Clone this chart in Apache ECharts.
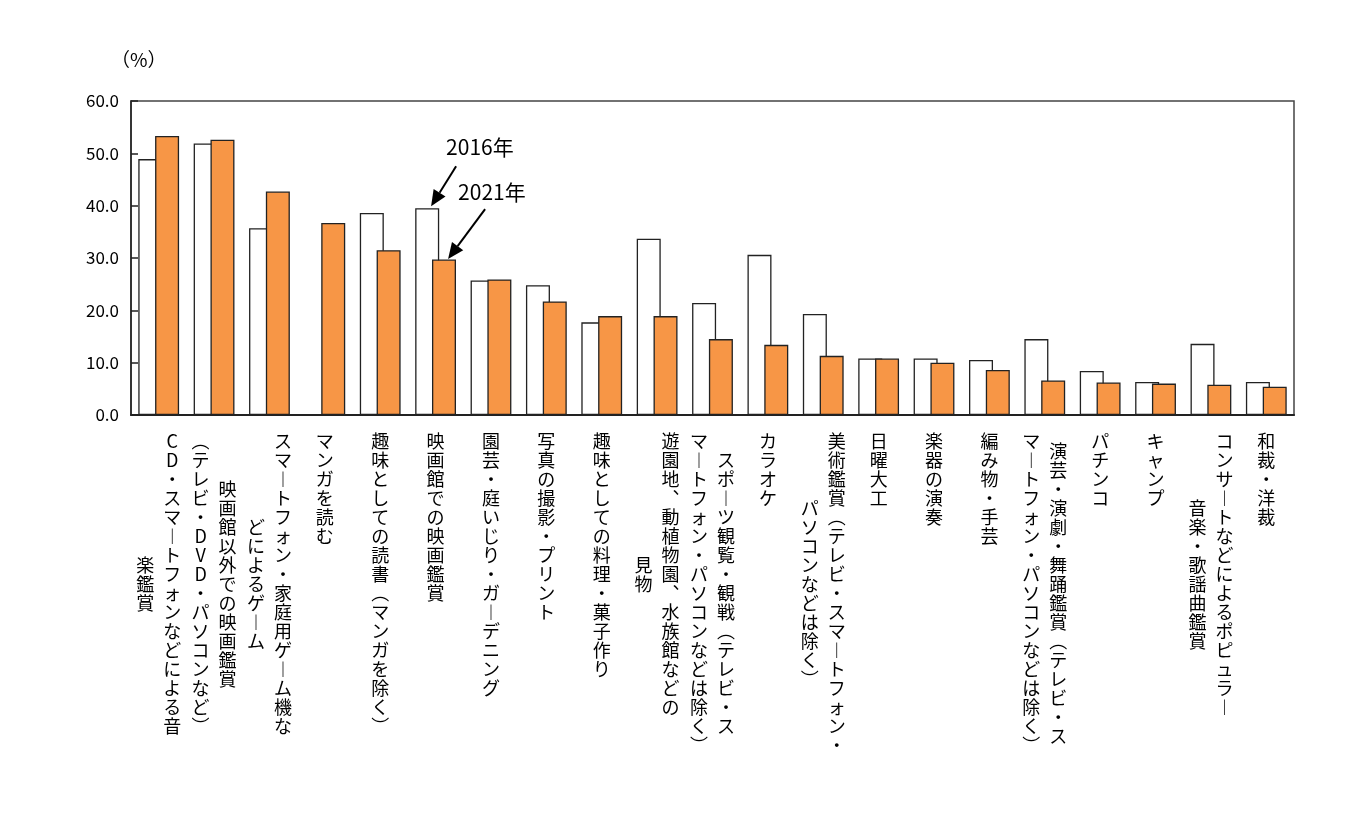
<!DOCTYPE html>
<html>
<head>
<meta charset="utf-8">
<script src="https://cdn.jsdelivr.net/npm/echarts@6/dist/echarts.min.js"></script>
<style>
  html, body { margin: 0; padding: 0; background: #fff; }
  #chart { width: 1360px; height: 814px; }
</style>
</head>
<body>
<div id="chart"></div>
<script>
// カテゴリ（列の区切りは \n、右の列から順に）
const categories = [
    'CD・スマートフォンなどによる音\n楽鑑賞',
    '映画館以外での映画鑑賞\n（テレビ・DVD・パソコンなど）',
    'スマートフォン・家庭用ゲーム機な\nどによるゲーム',
    'マンガを読む',
    '趣味としての読書（マンガを除く）',
    '映画館での映画鑑賞',
    '園芸・庭いじり・ガーデニング',
    '写真の撮影・プリント',
    '趣味としての料理・菓子作り',
    '遊園地、動植物園、水族館などの\n見物',
    'スポーツ観覧・観戦（テレビ・ス\nマートフォン・パソコンなどは除く）',
    'カラオケ',
    '美術鑑賞（テレビ・スマートフォン・\nパソコンなどは除く）',
    '日曜大工',
    '楽器の演奏',
    '編み物・手芸',
    '演芸・演劇・舞踊鑑賞（テレビ・ス\nマートフォン・パソコンなどは除く）',
    'パチンコ',
    'キャンプ',
    'コンサートなどによるポピュラー\n音楽・歌謡曲鑑賞',
    '和裁・洋裁'
];

const values2016 = [48.9, 51.9, 35.7, '-', 38.6, 39.5, 25.7, 24.8, 17.7, 33.7, 21.4,
                    30.6, 19.3, 10.8, 10.8, 10.5, 14.5, 8.4, 6.3, 13.6, 6.3];
const values2021 = [53.3, 52.6, 42.7, 36.7, 31.5, 29.7, 25.9, 21.7, 18.9, 18.9, 14.5,
                    13.4, 11.3, 10.8, 10.0, 8.6, 6.6, 6.2, 6.0, 5.8, 5.4];

const yTicks = { min: 0, max: 60, interval: 10 };
const seriesNames = ['2016年', '2021年'];

const FONT = '"Noto Sans CJK JP", "Noto Sans", sans-serif';

// 縦書き用の字形
const vertForms = { 'ー': '︱', '（': '︵', '）': '︶', '、': '︑', '(': '︵', ')': '︶' };

const chart = echarts.init(document.getElementById('chart'));

const option = {
    animation: false,
    backgroundColor: '#fff',
    title: {
        text: '（%）',
        left: 106,
        top: 45,
        textStyle: { fontFamily: FONT, fontSize: 19, fontWeight: 'normal', color: '#000' }
    },
    grid: {
        left: 131,
        right: 66,
        top: 101,
        bottom: 399,
        show: true,
        borderColor: '#444',
        borderWidth: 1.5
    },
    xAxis: {
        type: 'category',
        data: categories,
        axisLine: { lineStyle: { color: '#222', width: 2 } },
        axisTick: { inside: true, length: 5, lineStyle: { color: '#222', width: 1.5 } },
        axisLabel: { show: false }
    },
    yAxis: {
        type: 'value',
        min: yTicks.min,
        max: yTicks.max,
        interval: yTicks.interval,
        axisLine: { show: true, lineStyle: { color: '#222', width: 1.5 } },
        axisTick: { show: true, inside: true, length: 7, lineStyle: { color: '#222', width: 1.5 } },
        splitLine: { show: false },
        axisLabel: {
            color: '#000',
            fontFamily: FONT,
            fontSize: 17,
            margin: 12,
            formatter: v => v.toFixed(1)
        }
    },
    series: [
        {
            name: seriesNames[0],
            type: 'bar',
            data: values2016,
            barWidth: 24,
            barGap: '-30%',
            itemStyle: { color: '#fff', borderColor: '#222', borderWidth: 1.3 }
        },
        {
            name: seriesNames[1],
            type: 'bar',
            data: values2021,
            barWidth: 24,
            itemStyle: { color: '#F79646', borderColor: '#222', borderWidth: 1.3 }
        }
    ]
};

chart.setOption(option);

// 矢印（線＋三角）
function arrow(x1, y1, x2, y2) {
    const len = 16, half = 7;
    const dx = x2 - x1, dy = y2 - y1;
    const d = Math.sqrt(dx * dx + dy * dy);
    const ux = dx / d, uy = dy / d;
    const bx = x2 - ux * len, by = y2 - uy * len;
    return [
        { type: 'line', shape: { x1, y1, x2: bx, y2: by }, style: { stroke: '#000', lineWidth: 2 } },
        {
            type: 'polygon',
            shape: { points: [[x2, y2], [bx - uy * half, by + ux * half], [bx + uy * half, by - ux * half]] },
            style: { fill: '#000' }
        }
    ];
}

function buildGraphics() {
    const elements = [];
    const lh = 19, colGap = 27, top = 432;

    // カテゴリラベル（縦書き、列は中央揃え）
    categories.forEach((name, i) => {
        const cols = name.split('\n');
        const cx = chart.convertToPixel({ xAxisIndex: 0 }, i);
        const maxLen = Math.max(...cols.map(c => [...c].length));
        const cy = top + maxLen * lh / 2;
        cols.forEach((col, k) => {
            elements.push({
                type: 'text',
                x: cx + ((cols.length - 1) / 2 - k) * colGap,
                y: cy,
                style: {
                    text: [...col].map(ch => vertForms[ch] || ch).join('\n'),
                    font: '18px ' + FONT,
                    lineHeight: lh,
                    align: 'center',
                    verticalAlign: 'middle',
                    fill: '#000'
                }
            });
        });
    });

    // 注記：映画館での映画鑑賞の棒を指す
    const idx = 5;
    const p16 = chart.convertToPixel({ gridIndex: 0 }, [idx, values2016[idx]]);
    const p21 = chart.convertToPixel({ gridIndex: 0 }, [idx, values2021[idx]]);
    const t1 = [p16[0] - 4.5, p16[1] - 2];
    const t2 = [p21[0] + 12.5, p21[1] - 0.5];
    elements.push(...arrow(t1[0] + 25, t1[1] - 40, t1[0], t1[1]));
    elements.push(...arrow(t2[0] + 37, t2[1] - 50, t2[0], t2[1]));
    elements.push({
        type: 'text', x: t1[0] + 15, y: t1[1] - 59,
        style: { text: seriesNames[0], font: '21px ' + FONT, fill: '#000', align: 'left', verticalAlign: 'middle' }
    });
    elements.push({
        type: 'text', x: t2[0] + 10, y: t2[1] - 67,
        style: { text: seriesNames[1], font: '21px ' + FONT, fill: '#000', align: 'left', verticalAlign: 'middle' }
    });

    chart.setOption({ graphic: { elements } });
}

buildGraphics();
</script>
</body>
</html>
